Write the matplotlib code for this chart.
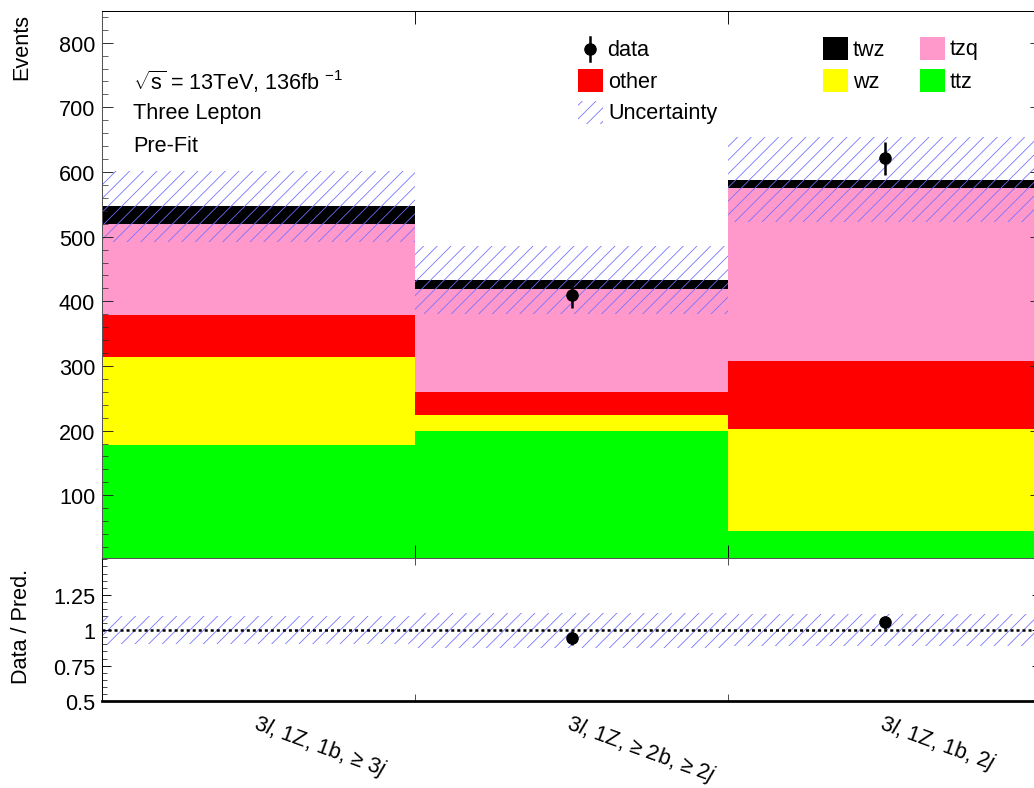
import numpy as np
import matplotlib.pyplot as plt
from matplotlib.patches import Rectangle
from matplotlib.lines import Line2D
from matplotlib.ticker import MultipleLocator, FixedLocator

plt.rcParams['font.family'] = ['Liberation Sans', 'DejaVu Sans']
plt.rcParams['mathtext.fontset'] = 'custom'
plt.rcParams['mathtext.rm'] = 'Liberation Sans'
plt.rcParams['mathtext.it'] = 'Liberation Sans:italic'
plt.rcParams['hatch.linewidth'] = 0.7

# Region labels and yields per process
regions = ['3$\\it{l}$, 1Z, 1b, \u2265 3$\\it{j}$',
           '3$\\it{l}$, 1Z, \u2265 2b, \u2265 2$\\it{j}$',
           '3$\\it{l}$, 1Z, 1b, 2$\\it{j}$']
ttz = [178, 200, 44]
wz = [136, 24, 159]
other = [65, 36, 104]
tzq = [141, 159, 268]
twz = [27, 14, 13]
unc = [55, 53, 66]
data = [np.nan, 410, 621]
data_err = [np.nan, 21, 26]

# stacking order from bottom to top
processes = [('ttz', ttz, '#00ff00'),
             ('wz', wz, '#ffff00'),
             ('other', other, '#ff0000'),
             ('tzq', tzq, '#ff99cc'),
             ('twz', twz, '#000000')]
hatch_col = '#7070ff'

W, H, DPI = 1034, 789, 82
fig = plt.figure(figsize=(W / DPI, H / DPI), dpi=DPI)

def px(x, y):
    return x / W, 1 - y / H

left, right = 102, 1041
ax = fig.add_axes([left / W, 1 - 559 / H, (right - left) / W, (559 - 12) / H])
ax2 = fig.add_axes([left / W, 1 - 702 / H, (right - left) / W, (702 - 559) / H])

x = np.arange(len(regions))
bottom = np.zeros(len(regions))
for name, vals, col in processes:
    ax.bar(x, vals, width=1, bottom=bottom, align='edge', color=col, linewidth=0)
    bottom += np.array(vals)
total = bottom
unc = np.array(unc)

# uncertainty band on the total prediction
ax.bar(x, 2 * unc, width=1, bottom=total - unc, align='edge', fill=False,
       hatch='//', edgecolor=hatch_col, linewidth=0)

ax.errorbar(x + 0.5, data, yerr=data_err, fmt='o', color='black',
            markersize=10, elinewidth=2.2, capsize=0)

ax.set_xlim(0, 3)
ax.set_ylim(3, 849)
ax.yaxis.set_major_locator(FixedLocator([100, 200, 300, 400, 500, 600, 700, 800]))
ax.yaxis.set_minor_locator(MultipleLocator(20))
ax.xaxis.set_major_locator(FixedLocator([1, 2]))
ax.set_xticklabels([])
ax.tick_params(axis='y', which='both', direction='in', left=True, right=True,
               labelsize=19, pad=6, color='#222222')
ax.tick_params(axis='y', which='major', length=10)
ax.tick_params(axis='y', which='minor', length=5)
ax.tick_params(axis='x', which='major', direction='in', top=True, bottom=True,
               length=11)
for s in ['left', 'bottom']:
    ax.spines[s].set_color('#555555')
for s in ax.spines.values():
    s.set_linewidth(0.9)

# ratio panel
ratio = np.array(data) / total
ratio_err = np.array(data_err) / total
rel = unc / total
ax2.bar(x, 2 * rel, width=1, bottom=1 - rel, align='edge', fill=False,
        hatch='//', edgecolor=hatch_col, linewidth=0)
ax2.axhline(1, color='black', linestyle=(0, (1.2, 1.2)), linewidth=2.2)
ax2.errorbar(x + 0.5, ratio, yerr=ratio_err, fmt='o', color='black',
             markersize=10, elinewidth=2.2, capsize=0)
ax2.set_xlim(0, 3)
ax2.set_ylim(0.5, 1.51)
ax2.yaxis.set_major_locator(FixedLocator([0.5, 0.75, 1, 1.25]))
ax2.set_yticklabels(['0.5', '0.75', '1', '1.25'])
ax2.yaxis.set_minor_locator(MultipleLocator(0.05))
ax2.tick_params(axis='y', which='both', direction='in', left=True, right=True,
                labelsize=19, pad=6)
ax2.tick_params(axis='y', which='major', length=8)
ax2.tick_params(axis='y', which='minor', length=4)
ax2.xaxis.set_major_locator(FixedLocator(x + 0.5))
ax2.set_xticklabels(regions, rotation=-20, ha='left', va='top',
                    rotation_mode='anchor', fontsize=19)
ax2.tick_params(axis='x', which='major', length=0, pad=8)
ax2.xaxis.set_minor_locator(FixedLocator([1, 2]))
ax2.tick_params(axis='x', which='minor', direction='in', top=True, bottom=True,
                length=6)
ax2.spines['bottom'].set_linewidth(2.4)
for s in ['left', 'top', 'right']:
    ax2.spines[s].set_linewidth(0.9)
ax2.spines['top'].set_color('#555555')

# axis titles
fig.text(*px(22, 14), 'Events', rotation=90, ha='center', va='top', fontsize=19)
fig.text(*px(22, 626), 'Data / Pred.', rotation=90, ha='center', va='center',
         fontsize=19)

# labels
fig.text(*px(133, 82), '$\\sqrt{\\mathrm{s}}$ = 13TeV, 136fb $^{-1}$', va='center',
         fontsize=19)
fig.text(*px(133, 114), 'Three Lepton', va='center', fontsize=19)
fig.text(*px(133, 146), 'Pre-Fit', va='center', fontsize=19)

# legend
def box(x0, y0, color, label):
    fig.add_artist(Rectangle(px(x0, y0 + 23), 25 / W, 23 / H, transform=fig.transFigure,
                             facecolor=color, edgecolor='none'))
    fig.text(*px(x0 + 30, y0 + 12), label, va='center', fontsize=19)

fig.add_artist(Line2D([590 / W] * 2, [1 - 38 / H, 1 - 62 / H], color='black',
                      linewidth=2.2, transform=fig.transFigure))
fig.add_artist(Line2D([590 / W], [1 - 50 / H], marker='o', markersize=10,
                      color='black', transform=fig.transFigure))
fig.text(*px(607, 50), 'data', va='center', fontsize=19)
box(578, 70, '#ff0000', 'other')
fig.add_artist(Rectangle(px(578, 125), 25 / W, 23 / H, transform=fig.transFigure,
                         fill=False, hatch='//', edgecolor=hatch_col, linewidth=0))
fig.text(*px(608, 114), 'Uncertainty', va='center', fontsize=19)
box(823, 38, '#000000', 'twz')
box(823, 70, '#ffff00', 'wz')
box(920, 38, '#ff99cc', 'tzq')
box(920, 70, '#00ff00', 'ttz')

fig.savefig('out.png', dpi=DPI)
